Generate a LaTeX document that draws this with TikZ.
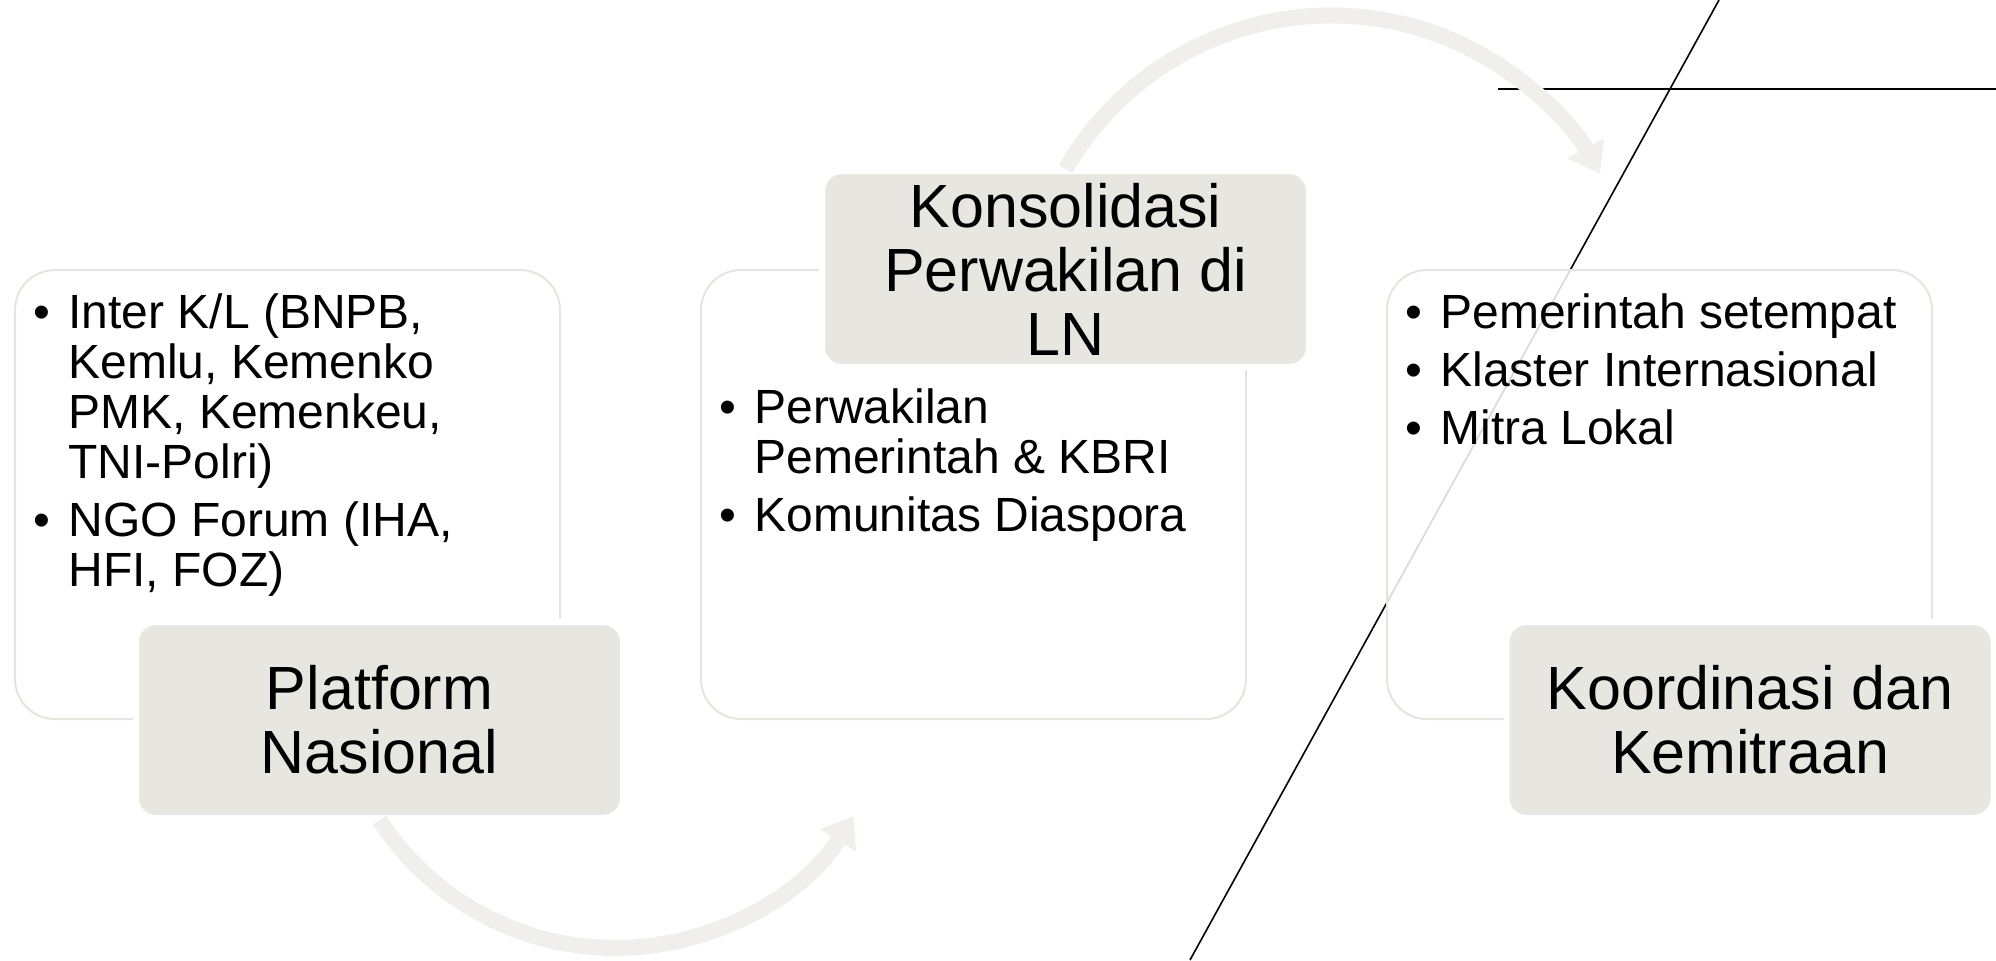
\documentclass[tikz,border=0pt]{standalone}
\usepackage{fontspec}
\setmainfont{Liberation Sans}
\usetikzlibrary{positioning}
\usetikzlibrary{arrows.meta}
\definecolor{boxgrey}{RGB}{232,230,224}
\definecolor{arcgrey}{RGB}{240,239,235}
\definecolor{edgegrey}{RGB}{230,228,222}
\newcommand{\bul}{\makebox[17.5pt][l]{\textbullet}}

\begin{document}
\begin{tikzpicture}[%
  x=0.5pt, y=0.5pt,
  >={Triangle[length=14.5pt, width=20pt]},
  flow/.style={->, arcgrey, line width=8pt},
  rule/.style={black, line width=0.8pt},
  panel/.style={draw=edgegrey, line width=1pt, fill=white, fill opacity=0.85,
    rounded corners=20pt, minimum width=272.5pt, minimum height=224.5pt,
    inner sep=0pt, outer sep=0pt},
  stage/.style={draw=white, line width=3pt, fill=boxgrey, rounded corners=10pt,
    minimum width=243.5pt, minimum height=98pt, inner sep=0pt, outer sep=0pt,
    align=center, font=\fontsize{30.5}{32}\selectfont},
  items/.style={inner sep=0pt, font=\fontsize{24}{25}\selectfont},
]

  \useasboundingbox (0,0) rectangle (1996,-960);

  \coordinate (d1) at (1719,0);
  \coordinate (d2) at (1190,-960);
  \coordinate (h1) at (1498,-89);
  \coordinate (h2) at (1996,-89);

  \draw[rule] (d1) -- (d2);
  \draw[rule] (h1) -- (h2);

  \node[panel] (natbox) at (287.5,-494.5) {};
  \node[panel] (lnbox) at (973.5,-494.5) {};
  \node[panel] (partbox) at (1659.5,-494.5) {};

  \node[stage] (natl) at (379.5,-720) {Platform\\Nasional};
  \node[stage] (consol) at (1065.5,-269) {Konsolidasi\\Perwakilan di\\LN};
  \node[stage] (coord) at (1750,-720) {Koordinasi dan\\Kemitraan};

  \draw[flow] ([yshift=-1pt]natl.south) arc[start angle=213, end angle=328, radius=281];
  \draw[flow] ([yshift=1pt]consol.north) arc[start angle=150, end angle=29, radius=307];

  \node[items, below right=11.5pt and 9pt of natbox.north west] (natlist) {%
    \begin{tabular}{@{}l@{}l@{}}
      \bul & Inter K/L (BNPB,\\
           & Kemlu, Kemenko\\
           & PMK, Kemenkeu,\\
           & TNI-Polri)\\[4pt]
      \bul & NGO Forum (IHA,\\
           & HFI, FOZ)
    \end{tabular}};
  \node[items, below right=59.25pt and 9pt of lnbox.north west] (lnlist) {%
    \begin{tabular}{@{}l@{}l@{}}
      \bul & Perwakilan\\
           & Pemerintah \& KBRI\\[4pt]
      \bul & Komunitas Diaspora
    \end{tabular}};
  \node[items, below right=11.5pt and 9pt of partbox.north west] (partlist) {%
    \begin{tabular}{@{}l@{}l@{}}
      \bul & Pemerintah setempat\\[4pt]
      \bul & Klaster Internasional\\[4pt]
      \bul & Mitra Lokal
    \end{tabular}};

\end{tikzpicture}
\end{document}
